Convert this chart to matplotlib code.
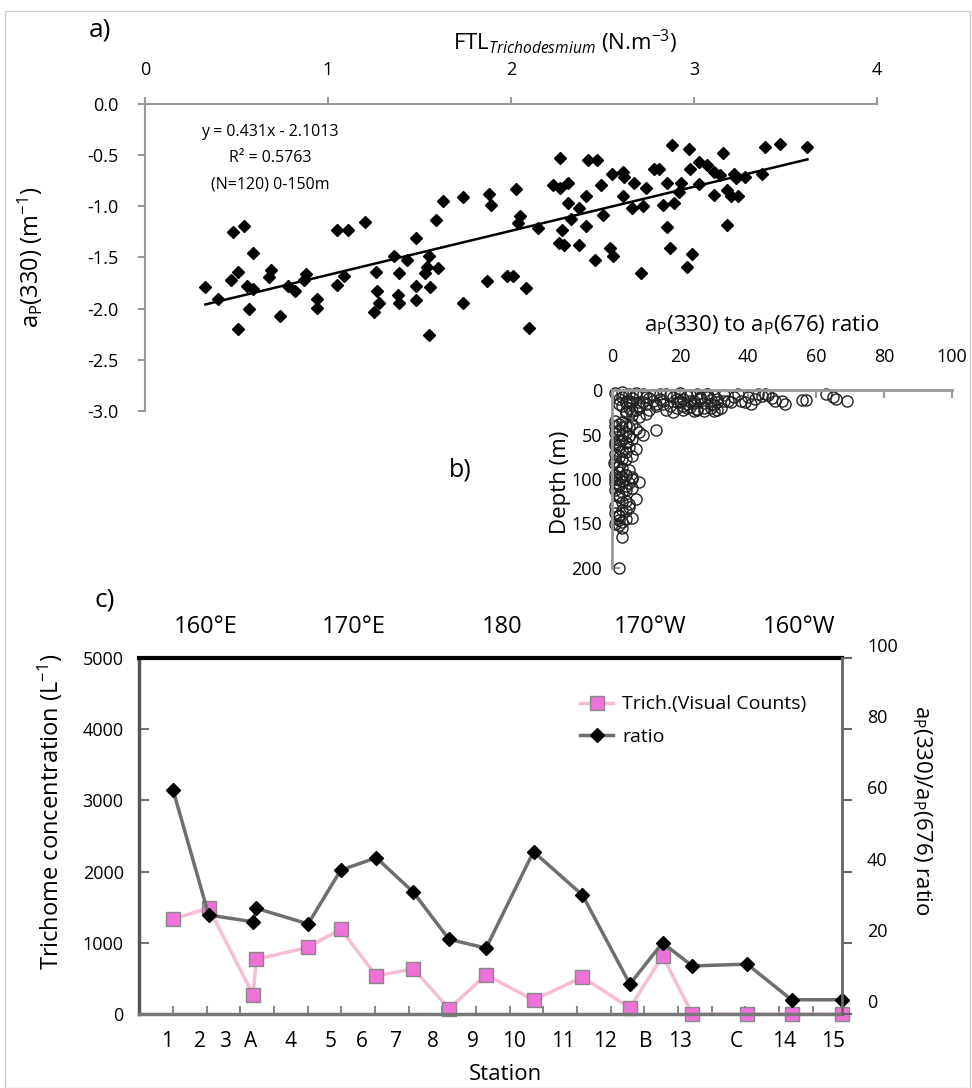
import matplotlib
matplotlib.use("Agg")
import matplotlib.pyplot as plt
import numpy as np
from matplotlib.patches import Rectangle
from matplotlib.transforms import ScaledTranslation

plt.rcParams['font.family'] = ['Open Sans', 'DejaVu Sans']
plt.rcParams['mathtext.fontset'] = 'custom'
plt.rcParams['mathtext.rm'] = 'Open Sans'
plt.rcParams['mathtext.it'] = 'Open Sans:italic'

# ---- panel a: ap(330) vs FTL Trichodesmium ----
ftl = [0.33, 0.40, 0.48, 0.54, 0.59, 0.47, 0.51, 0.56, 0.59, 0.57, 0.51, 0.69, 0.68, 0.74, 0.78,
       0.82, 0.88, 0.87, 0.94, 0.94, 1.05, 1.11, 1.20, 1.05, 1.09, 1.26, 1.27, 1.28, 1.25, 1.39,
       1.38, 1.39, 1.48, 1.36, 1.43, 1.48, 1.48, 1.53, 1.55, 1.56, 1.54, 1.60, 1.55, 1.59, 1.63,
       1.74, 1.74, 1.88, 1.89, 1.87, 1.98,
       2.01, 2.08, 2.10, 2.03, 2.05, 2.04, 2.15, 2.27, 2.23, 2.27, 2.31, 2.31, 2.28, 2.26, 2.29,
       2.33, 2.37, 2.41, 2.37, 2.41, 2.42, 2.47, 2.49, 2.50, 2.46, 2.54, 2.56, 2.55, 2.61, 2.62,
       2.67, 2.61, 2.66, 2.71, 2.72, 2.74, 2.78, 2.81, 2.85, 2.83, 2.89, 2.85, 2.87, 2.88, 2.97,
       2.98, 2.93, 2.92, 2.99, 2.96, 3.03, 3.07, 3.03, 3.11, 3.14, 3.11, 3.16, 3.18, 3.22, 3.20,
       3.24, 3.18, 3.28, 3.23, 3.37, 3.39, 3.47, 3.62]
ap330 = [-1.79, -1.91, -1.25, -1.19, -1.46, -1.72, -1.64, -1.78, -1.81, -2.00, -2.20, -1.62, -1.69, -2.07, -1.78,
         -1.83, -1.66, -1.72, -1.91, -1.99, -1.23, -1.23, -1.15, -1.77, -1.68, -1.64, -1.83, -1.94, -2.03, -1.65,
         -1.87, -1.94, -1.31, -1.49, -1.52, -1.92, -1.78, -1.65, -1.49, -1.79, -1.59, -1.60, -2.26, -1.13, -0.95,
         -0.91, -1.94, -0.88, -0.99, -1.73, -1.68,
         -1.68, -1.80, -2.19, -0.83, -1.09, -1.16, -1.21, -0.53, -0.79, -0.82, -0.77, -0.97, -1.23, -1.36, -1.38,
         -1.12, -1.02, -0.90, -1.38, -1.19, -0.55, -0.55, -0.79, -1.08, -1.52, -1.41, -1.49, -0.68, -0.66, -0.71,
         -0.77, -0.90, -1.02, -1.65, -1.00, -0.82, -0.64, -0.64, -0.77, -0.99, -0.97, -1.20, -1.41, -0.40, -0.44,
         -0.64, -0.77, -0.86, -1.47, -1.59, -0.57, -0.60, -0.78, -0.66, -0.69, -0.89, -0.48, -0.84, -0.68, -0.90,
         -0.90, -1.18, -0.71, -0.72, -0.68, -0.42, -0.39, -0.42]
slope = 0.431
intercept = -2.1013

# ---- panel b: ratio vs depth ----
ratio_b = [1, 3, 5, 7, 9, 2, 4, 6, 8, 10, 3, 5, 7, 12, 14, 16, 18, 19, 20, 21, 22, 23, 24, 25, 26, 27, 28, 29, 30, 31,
           17, 19, 21, 23, 25, 27, 29, 31, 33, 20, 22, 24, 26, 28, 30, 13, 15, 33, 35, 37, 38, 40, 41, 43, 44, 46, 47,
           48, 51, 56, 57, 63, 65, 66, 69, 10, 11, 4, 6, 8,
           3, 5, 7, 9, 11, 13, 15, 17, 19, 21, 23, 25, 27, 29, 31, 4, 8, 12, 16, 20, 24, 28, 32,
           6, 10, 14, 18, 22, 26, 30, 34, 36, 39, 42, 45, 50, 2, 4, 6, 8,
           1, 2, 3, 4, 5, 6, 7, 1, 3, 5, 8, 2, 4, 6, 9, 13, 1, 2, 3, 5, 7, 1, 2, 4, 6, 0.5, 1.5, 3, 2, 4, 6, 1, 3, 5, 8,
           2, 4, 1, 3, 6, 2, 4, 7, 1, 3, 5, 2, 4, 1, 3, 6, 2, 3, 2, 4,
           1, 2, 3, 4, 5, 1, 2, 3, 4, 1, 2, 3, 5, 1, 2, 3, 4, 6, 1, 2, 3, 4, 2, 3, 5, 1, 2, 4, 3, 2]
depth_b = [3, 2, 4, 3, 5, 10, 12, 9, 14, 8, 18, 20, 22, 6, 10, 4, 8, 14, 3, 10, 16, 6, 12, 4, 9, 15, 5, 11, 7, 14,
           18, 20, 22, 19, 21, 24, 20, 22, 12, 12, 7, 15, 10, 5, 17, 16, 12, 6, 14, 4, 12, 8, 16, 5, 7, 6, 9,
           12, 16, 11, 11, 5, 8, 10, 12, 27, 23, 26, 28, 30,
           8, 12, 6, 14, 9, 18, 16, 6, 10, 18, 12, 22, 20, 16, 10, 15, 20, 12, 22, 14, 24, 8, 20,
           24, 16, 4, 25, 20, 8, 24, 12, 8, 14, 10, 4, 12, 16, 24, 14, 18,
           35, 38, 36, 40, 42, 38, 44, 48, 50, 52, 47, 56, 58, 55, 50, 45, 62, 65, 68, 64, 66, 72, 75, 78, 74, 82, 86,
           88, 92, 95, 98, 100, 102, 104, 103, 106, 108, 112, 115, 110, 120, 125, 122, 130, 135, 132, 140, 145, 150,
           148, 144, 152, 165, 200, 60,
           40, 45, 42, 48, 52, 58, 62, 56, 70, 80, 85, 78, 90, 96, 100, 98, 95, 100, 105, 108, 102, 112, 118, 126,
           128, 138, 142, 136, 155, 146]

# ---- panel c: stations along the transect ----
stations = ['1', '2', '3', 'A', '4', '5', '6', '7', '8', '9', '10', '11', '12', 'B', '13', 'C', '14', '15']
station_lon = [157.8, 160.2, 163.2, 163.4, 166.9, 169.1, 171.5, 174.0, 176.4, 178.9, 182.1, 185.4, 188.6,
               190.8, 192.8, 196.5, 199.5, 202.9]
label_lon = [157.4, 159.6, 161.3, 163.0, 165.7, 168.4, 170.5, 172.8, 175.3, 178.0, 180.8, 184.1, 186.9,
             189.7, 192.0, 195.8, 199.0, 202.3]
trich = [1334, 1489, 268, 770, 934, 1193, 535, 634, 75, 549, 197, 517, 85, 817, 0, 0, 0, 0]
ratio = [62.9, 27.8, 25.9, 29.7, 25.3, 40.4, 43.9, 34.2, 21.0, 18.5, 45.6, 33.4, 8.4, 20.0, 13.5, 14.0, 4.0, 4.0]
lon_ticks = [160, 170, 180, 190, 200]
lon_labels = ['160°E', '170°E', '180', '170°W', '160°W']

W, H = 972, 1088
fig = plt.figure(figsize=(W / 100, H / 100), dpi=100)


def box(l, t, r, b):
    return [l / W, 1 - b / H, (r - l) / W, (b - t) / H]


def ftext(x, y, s, **kw):
    kw.setdefault('ha', 'center')
    kw.setdefault('va', 'center')
    fig.text(x / W, 1 - y / H, s, **kw)


fig.patches.append(Rectangle((5 / W, 0), 1 - 5 / W - 0.002, 1 - 11 / H, transform=fig.transFigure,
                             fill=False, edgecolor='#cccccc', lw=1))

# panel a
ax_a = fig.add_axes(box(145, 104, 877, 411))
ax_a.plot(ftl, ap330, 'D', color='black', ms=6, clip_on=False)
xs = np.array([min(ftl), max(ftl)])
ax_a.plot(xs, slope * xs + intercept, color='black', lw=1.8)
ax_a.set_xlim(0, 4)
ax_a.set_ylim(-3, 0)
ax_a.xaxis.tick_top()
ax_a.set_xticks(range(5))
ax_a.set_yticks(np.arange(-3, 0.01, 0.5))
ax_a.set_yticklabels(['%.1f' % v for v in np.arange(-3, 0.01, 0.5)])
for s in ['right', 'bottom']:
    ax_a.spines[s].set_visible(False)
for s in ['left', 'top']:
    ax_a.spines[s].set_color('#999999')
    ax_a.spines[s].set_linewidth(1.5)
ax_a.tick_params(direction='out', length=5, color='#999999', width=1.5, labelsize=13)
ax_a.tick_params(axis='x', pad=13)
ax_a.tick_params(axis='y', pad=14)
ftext(100, 30, 'a)', fontsize=19)
ftext(565, 42, r'FTL$_{\mathit{Trichodesmium}}$ (N.m$^{-3}$)', fontsize=16)
ftext(30, 257, r'a$_\mathrm{P}$(330) (m$^{-1}$)', fontsize=17, rotation=90)
ftext(270, 132, 'y = 0.431x - 2.1013', fontsize=11.5)
ftext(270, 158, 'R² = 0.5763', fontsize=11.5)
ftext(270, 184, '(N=120) 0-150m', fontsize=11.5)

# panel b
ax_b = fig.add_axes(box(612, 390, 952, 568))
ax_b.plot(ratio_b, depth_b, 'o', mfc='none', mec='#222222', ms=8, mew=1, clip_on=False)
ax_b.set_xlim(0, 100)
ax_b.set_ylim(200, 0)
ax_b.xaxis.tick_top()
ax_b.set_xticks(range(0, 101, 20))
ax_b.set_yticks(range(0, 201, 50))
for s in ['right', 'bottom']:
    ax_b.spines[s].set_visible(False)
for s in ['left', 'top']:
    ax_b.spines[s].set_color('#999999')
    ax_b.spines[s].set_linewidth(2)
ax_b.tick_params(direction='in', length=6, color='#999999', width=1.5, labelsize=13)
ax_b.tick_params(axis='x', pad=17)
ax_b.tick_params(axis='y', pad=7)
ax_b.patch.set_alpha(0)
ftext(762, 325, r'a$_\mathrm{P}$(330) to a$_\mathrm{P}$(676) ratio', fontsize=16)
ftext(560, 482, 'Depth (m)', fontsize=16, rotation=90)
ftext(460, 470, 'b)', fontsize=18)

# panel c
ax_c = fig.add_axes(box(139, 658, 842, 1014))
ax_c.plot(station_lon, trich, '-s', color='#f7bcd6', lw=2.5, mfc='#ee72d8', mec='#888888',
          ms=9.4, mew=1, clip_on=False, label='Trich.(Visual Counts)')
ax_c.set_xlim(155.5, 202.9)
ax_c.set_ylim(0, 5000)
ax_c.set_yticks(range(0, 5001, 1000))
ax_c.set_xticks(label_lon)
ax_c.set_xticklabels(stations)
ax_c.set_xticks(np.arange(157.8, 201.5, 2.27), minor=True)
ax_c.tick_params(axis='x', which='major', length=0, pad=12, labelsize=15)
ax_c.tick_params(axis='x', which='minor', direction='in', length=6, color='#888888', width=1.5)
ax_c.tick_params(axis='y', direction='in', length=7, color='#777777', width=1.5, labelsize=13, pad=11)
ax_c.spines['top'].set_color('black')
ax_c.spines['top'].set_linewidth(3)
ax_c.spines['left'].set_color('#555555')
ax_c.spines['left'].set_linewidth(2.5)
ax_c.spines['bottom'].set_color('#777777')
ax_c.spines['bottom'].set_linewidth(2.5)
ax_c.spines['right'].set_visible(False)

ax_r = ax_c.twinx()
ax_r.plot(station_lon, ratio, '-D', color='#6e6e6e', lw=2.5, mfc='black', mec='black', ms=7,
          clip_on=False, label='ratio')
ax_r.set_ylim(0, 100)
ax_r.set_yticks(range(0, 101, 20))
ax_r.tick_params(axis='y', direction='out', length=7, color='#666666', width=1.5, labelsize=13, pad=11)
for s in ['top', 'left', 'bottom']:
    ax_r.spines[s].set_visible(False)
ax_r.spines['right'].set_color('#666666')
ax_r.spines['right'].set_linewidth(2)
lift = ScaledTranslation(0, 13 / 100, fig.dpi_scale_trans)
for t in ax_r.yaxis.get_major_ticks():
    t.label2.set_transform(t.label2.get_transform() + lift)

top = ax_c.secondary_xaxis('top')
top.set_xticks(lon_ticks)
top.set_xticklabels(lon_labels)
top.tick_params(length=0, pad=14, labelsize=17)
top.spines['top'].set_visible(False)

h1, l1 = ax_c.get_legend_handles_labels()
h2, l2 = ax_r.get_legend_handles_labels()
ax_r.legend(h1 + h2, l1 + l2, loc='upper left', bbox_to_anchor=(0.603, 0.944), frameon=False,
            fontsize=14, handlelength=1.7, handletextpad=0.45, labelspacing=0.75)

ftext(50, 812, r'Trichome concentration (L$^{-1}$)', fontsize=17, rotation=90)
ftext(922, 810, r'a$_\mathrm{P}$(330)/a$_\mathrm{P}$(676) ratio', fontsize=16, rotation=270)
ftext(505, 1075, 'Station', fontsize=16)
ftext(105, 600, 'c)', fontsize=19)

fig.savefig('out.png', dpi=100)
